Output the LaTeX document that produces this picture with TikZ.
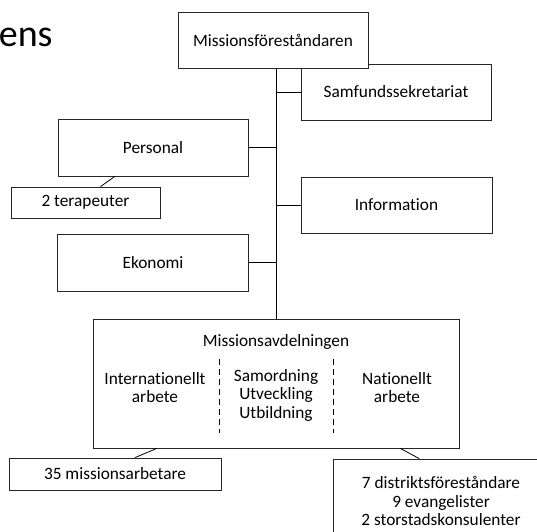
\documentclass[tikz,border=0pt]{standalone}
\usepackage{fontspec}
\setmainfont{Carlito}[Ligatures=NoCommon]
\usetikzlibrary{calc}

\begin{document}
\begin{tikzpicture}[x=1pt,y=-1pt,
  line width=0.8pt,
  box/.style={draw=black!85,fill=white,inner sep=0pt,align=center,font=\fontsize{17.3}{18.5}\selectfont},
  txt/.style={inner sep=0pt,align=center,font=\fontsize{17.3}{18.5}\selectfont},
  divider/.style={dash pattern=on 6pt off 4pt,line width=0.7pt}]
\useasboundingbox (0,0) rectangle (537,531);
\clip (0,0) rectangle (537,531);
\node[inner sep=0pt,anchor=base east,font=\fontsize{38}{40}\selectfont] (title) at (53,46) {ens};
% boxes
\node[box,minimum width=190,minimum height=56] (samf) at (396,92) {Samfundssekretariat};
\node[box,minimum width=190,minimum height=56] (top) at (273,40) {Missionsföreståndaren};
\node[box,minimum width=190,minimum height=57] (personal) at (153,147.5) {Personal};
\node[box,minimum width=149,minimum height=31] (terap) at (85.5,202.5) {2 terapeuter};
\node[box,minimum width=191,minimum height=56] (info) at (396.5,205) {Information};
\node[box,minimum width=191,minimum height=57] (ekon) at (153,262.5) {Ekonomi};
\node[box,minimum width=366,minimum height=129] (mav) at (276,383.5) {};
\node[box,minimum width=212,minimum height=32] (miss) at (115,474) {35 missionsarbetare};
\node[box,minimum width=216,minimum height=84] (dist) at (441,501) {7 distriktsföreståndare\\9 evangelister\\2 storstadskonsulenter};
% inside Missionsavdelningen
\node[txt] (mavtitle) at (276,342) {Missionsavdelningen};
\node[txt] (intl) at (155,387.5) {Internationellt\\arbete};
\node[txt] (samord) at (276,395) {Samordning\\Utveckling\\Utbildning};
\node[txt] (natl) at (397,387.5) {Nationellt\\arbete};
\draw[divider] (219,359) -- (219,433);
\draw[divider] (333,359) -- (333,433);
% trunk and branches
\coordinate (trunktop) at (mav.north |- top.south);
\draw (mav.north) -- (trunktop);
\draw (samf.west) -- (samf.west -| mav.north);
\draw (personal.east) -- (personal.east -| mav.north);
\draw (info.west) -- (info.west -| mav.north);
\draw (ekon.east) -- (ekon.east -| mav.north);
\draw ($(personal.south west)!0.3!(personal.south east)$) -- ($(terap.north west)!0.6!(terap.north east)$);
\draw ($(mav.south west)!0.175!(mav.south east)$) -- ($(miss.north west)!0.594!(miss.north east)$);
\draw ($(mav.south west)!0.839!(mav.south east)$) -- ($(dist.north west)!0.4!(dist.north east)$);
\end{tikzpicture}
\end{document}
